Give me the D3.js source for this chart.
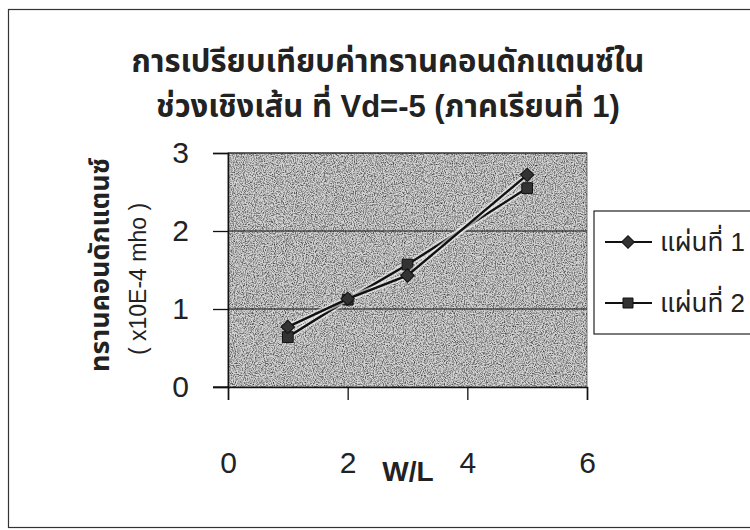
<!DOCTYPE html>
<html><head><meta charset="utf-8">
<script src="https://cdn.jsdelivr.net/npm/d3@7"></script>
<style>
html,body{margin:0;padding:0;background:#fff;}
svg{display:block;font-family:"Liberation Sans",Arial,"Noto Sans Thai","Noto Sans",sans-serif;}
</style></head>
<body>
<svg id="c" width="750" height="530"></svg>
<script>
const titleLines = ["การเปรียบเทียบค่าทรานคอนดักแตนซ์ใน", "ช่วงเชิงเส้น ที่ Vd=-5 (ภาคเรียนที่ 1)"];
const yTitle = "ทรานคอนดักแตนซ์";
const yUnit = "( x10E-4 mho )";
const xTitle = "W/L";
const xValues = [1, 2, 3, 5];
const series1 = [0.77, 1.13, 1.43, 2.72];
const series2 = [0.64, 1.12, 1.57, 2.55];
const seriesNames = ["แผ่นที่ 1", "แผ่นที่ 2"];
const xTicks = [0, 2, 4, 6];
const yTicks = [0, 1, 2, 3];

const svg = d3.select("#c");
const L = 228, R = 587, T = 153, B = 387;
const x = d3.scaleLinear().domain([0, 6]).range([L, R]);
const y = d3.scaleLinear().domain([0, 3]).range([B, T]);

// outer chart border
svg.append("rect").attr("x", 8.5).attr("y", 9.5).attr("width", 760).attr("height", 518)
  .attr("fill", "#fff").attr("stroke", "#333").attr("stroke-width", 1.2);

// texture filter
const defs = svg.append("defs");
const f = defs.append("filter").attr("id", "noise").attr("x", 0).attr("y", 0).attr("width", "100%").attr("height", "100%");
f.append("feTurbulence").attr("type", "fractalNoise").attr("baseFrequency", 0.9).attr("numOctaves", 2).attr("seed", 3).attr("result", "t");
f.append("feColorMatrix").attr("in", "t").attr("type", "matrix")
  .attr("values", "0 0 0 0 0  0 0 0 0 0  0 0 0 0 0  1.8 0 0 0 -0.7");
f.append("feComposite").attr("in2", "SourceGraphic").attr("operator", "in");

// plot area
svg.append("rect").attr("x", L).attr("y", T).attr("width", R - L).attr("height", B - T)
  .attr("fill", "#d4d4d4").attr("stroke", "#777").attr("stroke-width", 1);
svg.append("rect").attr("x", L).attr("y", T).attr("width", R - L).attr("height", B - T)
  .attr("fill", "#fff").attr("filter", "url(#noise)").attr("opacity", 0.85);

// gridlines
svg.append("g").selectAll("line").data(yTicks.filter(d => d > 0)).join("line")
  .attr("x1", L).attr("x2", R).attr("y1", d => y(d)).attr("y2", d => y(d))
  .attr("stroke", "#111").attr("stroke-width", 1.2);

const numFont = "Liberation Sans, Arial, sans-serif";
// y axis
const yAxis = svg.append("g").attr("transform", `translate(${L},0)`)
  .call(d3.axisLeft(y).tickValues(yTicks).tickSize(15).tickPadding(24).tickFormat(d3.format("d")));
yAxis.select(".domain").attr("stroke", "#111").attr("stroke-width", 1.5);
yAxis.selectAll(".tick line").attr("stroke", "#111").attr("stroke-width", 1.3);
yAxis.selectAll("text").attr("font-size", 30).attr("fill", "#222").attr("font-family", numFont);

// x axis
const xAxis = svg.append("g").attr("transform", `translate(0,${B})`)
  .call(d3.axisBottom(x).tickValues(xTicks).tickSize(13).tickPadding(52).tickFormat(d3.format("d")));
xAxis.select(".domain").attr("stroke", "#111").attr("stroke-width", 1.5);
xAxis.selectAll(".tick line").attr("stroke", "#111").attr("stroke-width", 1.3);
xAxis.selectAll("text").attr("font-size", 30).attr("fill", "#222").attr("font-family", numFont);
svg.append("line").attr("x1", L - 15).attr("x2", L).attr("y1", B).attr("y2", B).attr("stroke", "#111").attr("stroke-width", 1.3);

// titles
svg.append("g").selectAll("text").data(titleLines).join("text")
  .attr("x", 388).attr("y", (d, i) => 72 + i * 45)
  .attr("text-anchor", "middle").attr("font-size", 31).attr("font-weight", "bold").attr("fill", "#222")
  .text(d => d);

svg.append("text").attr("transform", "translate(109,265) rotate(-90)")
  .attr("text-anchor", "middle").attr("font-size", 27).attr("font-weight", "bold").attr("fill", "#222")
  .text(yTitle);
svg.append("text").attr("transform", "translate(146,279) rotate(-90)")
  .attr("text-anchor", "middle").attr("font-size", 23).attr("fill", "#222")
  .text(yUnit);

svg.append("text").attr("x", 408).attr("y", 481).attr("text-anchor", "middle")
  .attr("font-size", 28).attr("font-weight", "bold").attr("fill", "#222").text(xTitle);

// series
const line = d3.line().x(d => x(d[0])).y(d => y(d[1]));
const data1 = xValues.map((v, i) => [v, series1[i]]);
const data2 = xValues.map((v, i) => [v, series2[i]]);
const sq = d3.symbol().type(d3.symbolSquare);

function drawSeries(data, isDiamond) {
  svg.append("path").datum(data).attr("d", line).attr("fill", "none")
    .attr("stroke", "#f4f4f4").attr("stroke-width", 6).attr("opacity", 0.6);
  svg.append("path").datum(data).attr("d", line).attr("fill", "none")
    .attr("stroke", "#111").attr("stroke-width", 2.4);
  svg.append("g").selectAll("path").data(data).join("path")
    .attr("transform", d => `translate(${x(d[0])},${y(d[1])})` + (isDiamond ? " rotate(45)" : ""))
    .attr("d", sq.size(isDiamond ? 90 : 115)())
    .attr("fill", "#333").attr("stroke", "#111").attr("stroke-width", 1);
}
drawSeries(data2, false);
drawSeries(data1, true);

// legend
svg.append("rect").attr("x", 594).attr("y", 211).attr("width", 200).attr("height", 123)
  .attr("fill", "#fff").attr("stroke", "#222").attr("stroke-width", 1.2);
const lg = svg.append("g").selectAll("g").data(seriesNames).join("g")
  .attr("transform", (d, i) => `translate(0,${242 + i * 61})`);
lg.append("line").attr("x1", 605).attr("x2", 652).attr("y1", 0).attr("y2", 0)
  .attr("stroke", "#111").attr("stroke-width", 2);
lg.append("path").attr("transform", (d, i) => "translate(628,0)" + (i === 0 ? " rotate(45)" : ""))
  .attr("d", (d, i) => d3.symbol().type(d3.symbolSquare).size(i === 0 ? 80 : 100)())
  .attr("fill", "#333").attr("stroke", "#111");
lg.append("text").attr("x", 660).attr("y", 9).attr("font-size", 26).attr("fill", "#222").text(d => d);
</script>
</body></html>
